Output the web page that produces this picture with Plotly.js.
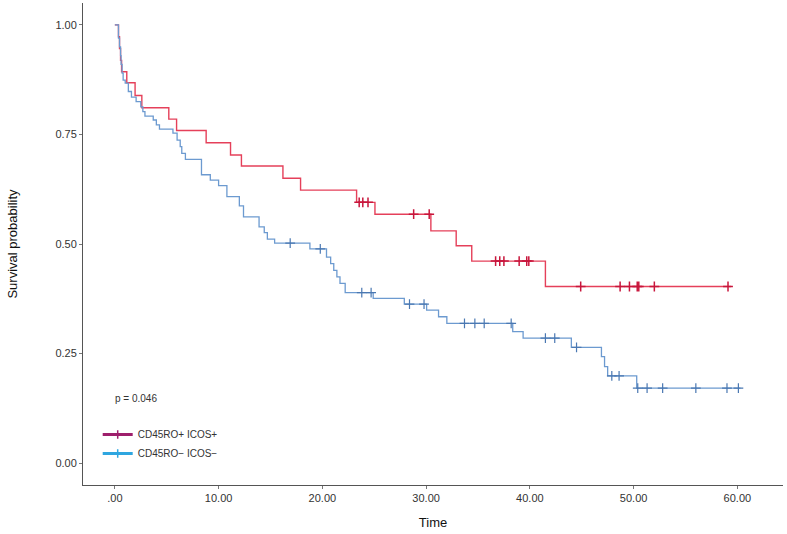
<!DOCTYPE html>
<html>
<head>
<meta charset="utf-8">
<script src="https://cdn.plot.ly/plotly-3.0.1.min.js"></script>
<style>html,body{margin:0;padding:0;background:#fff;}#chart{width:787px;height:534px;}</style>
</head>
<body>
<div id="chart"></div>
<script>
// Group names
const groupNames = ["CD45RO+ ICOS+", "CD45RO\u2212 ICOS\u2212"];

// Red group (CD45RO+ ICOS+) step curve: time, survival
const redTime = [0, 0.35, 0.45, 0.55, 0.65, 1.15, 1.95, 2.6, 5.2, 5.95, 8.8, 11.15, 12.2, 16.2, 17.9, 23.3, 25.07, 30.46, 32.9, 34.4, 41.5, 59.4];
const redSurv = [1.0, 0.973, 0.946, 0.919, 0.893, 0.868, 0.839, 0.811, 0.785, 0.759, 0.731, 0.703, 0.678, 0.650, 0.623, 0.595, 0.568, 0.530, 0.496, 0.461, 0.403, 0.403];
// Red censor marks
const redCensTime = [23.55, 23.9, 24.4, 28.8, 30.3, 36.7, 37.1, 37.5, 38.97, 39.7, 39.9, 44.9, 48.7, 49.6, 50.35, 50.5, 52.0, 59.1];
const redCensSurv = [0.595, 0.595, 0.595, 0.568, 0.568, 0.461, 0.461, 0.461, 0.461, 0.461, 0.461, 0.403, 0.403, 0.403, 0.403, 0.403, 0.403, 0.403];

// Blue group (CD45RO- ICOS-) step curve
const blueTime = [0, 0.35, 0.45, 0.55, 0.6, 0.7, 0.8, 1.0, 1.3, 1.6, 2.05, 2.5, 2.7, 2.9, 3.7, 4.0, 4.3, 5.6, 6.0, 6.3, 6.45, 6.8, 8.35, 9.2, 10.0, 10.8, 12.0, 12.4, 13.9, 14.4, 14.7, 15.4, 18.8, 20.4, 20.8, 21.1, 21.4, 21.7, 22.2, 24.9, 27.9, 30.05, 31.2, 32.0, 38.35, 39.35, 44.0, 46.9, 47.2, 47.5, 50.3, 60.3];
const blueSurv = [1.0, 0.97, 0.95, 0.93, 0.91, 0.89, 0.874, 0.867, 0.848, 0.835, 0.825, 0.813, 0.802, 0.792, 0.783, 0.772, 0.762, 0.753, 0.737, 0.722, 0.707, 0.693, 0.658, 0.646, 0.633, 0.608, 0.587, 0.562, 0.539, 0.526, 0.511, 0.502, 0.489, 0.47, 0.455, 0.44, 0.425, 0.41, 0.389, 0.376, 0.363, 0.349, 0.334, 0.319, 0.300, 0.285, 0.264, 0.243, 0.220, 0.199, 0.171, 0.171];
// Blue censor marks
const blueCensTime = [16.9, 19.8, 23.8, 24.7, 28.4, 29.8, 33.7, 34.7, 35.6, 38.2, 41.5, 42.4, 44.5, 47.9, 48.6, 50.4, 51.3, 52.8, 56.0, 59.0, 60.1];
const blueCensSurv = [0.502, 0.489, 0.389, 0.389, 0.363, 0.363, 0.319, 0.319, 0.319, 0.319, 0.285, 0.285, 0.264, 0.199, 0.199, 0.171, 0.171, 0.171, 0.171, 0.171, 0.171];

// Axis ticks
const xTickVals = [0, 10, 20, 30, 40, 50, 60];
const xTickText = [".00", "10.00", "20.00", "30.00", "40.00", "50.00", "60.00"];
const yTickVals = [0, 0.25, 0.5, 0.75, 1.0];
const yTickText = ["0.00", "0.25", "0.50", "0.75", "1.00"];
const pValueText = "p = 0.046";

const redLine = "#e5405a", redMark = "#c8163c", redLegend = "#9e1f6c";
const blueLine = "#6c9ad0", blueMark = "#4a78b2", blueLegend = "#2ea6e0";

const traces = [
  {x: redTime, y: redSurv, type: "scatter", mode: "lines", line: {shape: "hv", color: redLine, width: 1.4}, showlegend: false, hoverinfo: "skip"},
  {x: blueTime, y: blueSurv, type: "scatter", mode: "lines", line: {shape: "hv", color: blueLine, width: 1.3}, showlegend: false, hoverinfo: "skip"},
  {x: redCensTime, y: redCensSurv, type: "scatter", mode: "markers", marker: {symbol: "cross-thin", size: 7, line: {color: redMark, width: 1.5}}, showlegend: false},
  {x: blueCensTime, y: blueCensSurv, type: "scatter", mode: "markers", marker: {symbol: "cross-thin", size: 7, line: {color: blueMark, width: 1.2}}, showlegend: false},
  {x: [null], y: [null], type: "scatter", mode: "lines+markers", name: groupNames[0], line: {color: redLegend, width: 3}, marker: {symbol: "cross-thin", size: 6, line: {color: redLegend, width: 1.5}}},
  {x: [null], y: [null], type: "scatter", mode: "lines+markers", name: groupNames[1], line: {color: blueLegend, width: 3}, marker: {symbol: "cross-thin", size: 6, line: {color: blueLegend, width: 1.5}}}
];

const layout = {
  width: 787, height: 534,
  margin: {l: 83, r: 4, t: 3, b: 49},
  paper_bgcolor: "#fff", plot_bgcolor: "#fff",
  font: {family: "Liberation Sans, Arial, sans-serif", color: "#222"},
  xaxis: {
    range: [-3.07, 64.4], showgrid: false, zeroline: false,
    showline: true, linecolor: "#555", linewidth: 1,
    ticks: "outside", ticklen: 3, tickcolor: "#777",
    tickvals: xTickVals, ticktext: xTickText,
    tickfont: {size: 11, color: "#333"},
    title: {text: "Time", font: {size: 13, color: "#111"}, standoff: 14}
  },
  yaxis: {
    range: [-0.05, 1.05], showgrid: false, zeroline: false,
    showline: true, linecolor: "#555", linewidth: 1,
    ticks: "outside", ticklen: 3, tickcolor: "#777",
    tickvals: yTickVals, ticktext: yTickText,
    tickfont: {size: 11, color: "#333"},
    title: {text: "Survival probability", font: {size: 13, color: "#111"}, standoff: 34}
  },
  legend: {
    x: 0.021, xanchor: "left", y: 0.135, yanchor: "top",
    bgcolor: "rgba(0,0,0,0)", font: {size: 10, color: "#333"},
    tracegroupgap: 0, itemwidth: 30
  },
  annotations: [
    {xref: "paper", yref: "paper", x: 0.043, y: 0.18, xanchor: "left", yanchor: "middle",
     text: pValueText, showarrow: false, font: {size: 10, color: "#333"}}
  ]
};

Plotly.newPlot("chart", traces, layout, {displayModeBar: false, staticPlot: true});
</script>
</body>
</html>
